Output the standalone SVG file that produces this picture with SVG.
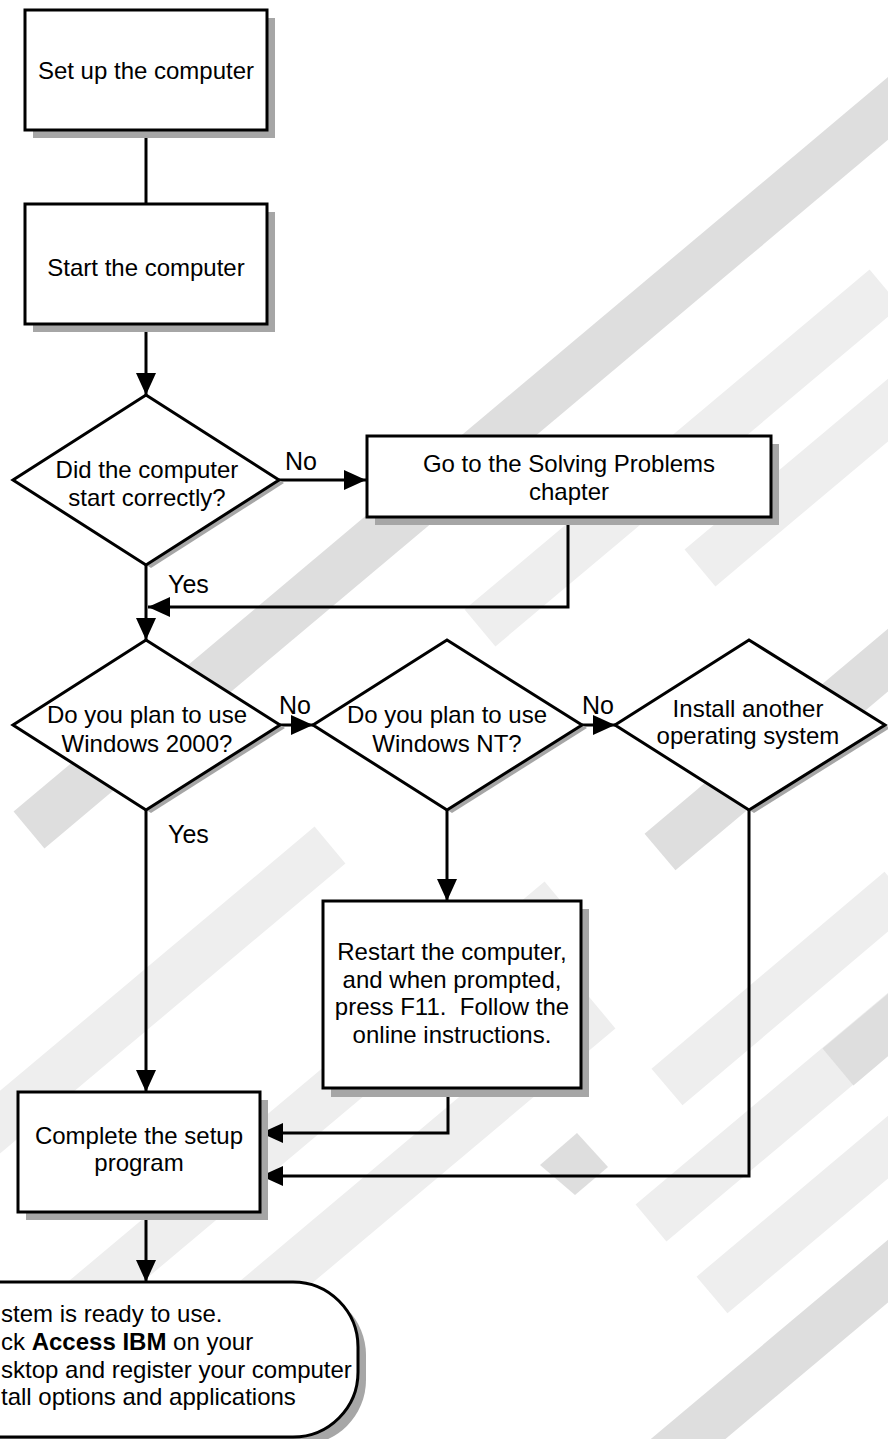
<svg xmlns="http://www.w3.org/2000/svg" width="888" height="1439" viewBox="0 0 888 1439">
<style>
.bg line { fill:none; stroke-linecap:butt }
.dk { stroke:#dedede; stroke-width:48 }
.lt { stroke:#eeeeee; stroke-width:48 }
.box { fill:#ffffff; stroke:#000000; stroke-width:3 }
.sh { fill:#a6a6a6 }
.t { font-family:"Liberation Sans", Arial, sans-serif; font-size:24px; fill:#000000; text-anchor:middle }
.tl { font-family:"Liberation Sans", Arial, sans-serif; font-size:24px; fill:#000000 }
.lbl { font-family:"Liberation Sans", Arial, sans-serif; font-size:25px; fill:#000000 }
.conn { fill:none; stroke:#000000; stroke-width:3 }
</style>
<defs>
<marker id="ah" markerUnits="userSpaceOnUse" markerWidth="22" markerHeight="20" refX="22" refY="10" orient="auto">
<path d="M0,0 L22,10 L0,20 Z" fill="#000000"/>
</marker>
</defs>
<rect width="888" height="1439" fill="#ffffff"/>
<g class="bg" id="background">
<line class="lt" x1="885" y1="288" x2="480" y2="628"/>
<line class="lt" x1="700" y1="568" x2="1000" y2="316"/>
<line class="dk" x1="1017" y1="0" x2="29" y2="830"/>
<line class="dk" x1="660" y1="852" x2="1000" y2="566"/>
<line class="lt" x1="330" y1="845" x2="-20" y2="1139"/>
<line class="lt" x1="560" y1="900" x2="-20" y2="1387"/>
<line class="lt" x1="600" y1="1010" x2="200" y2="1346"/>
<line class="lt" x1="712" y1="1295" x2="1000" y2="1053"/>
<line class="lt" x1="651" y1="1223" x2="950" y2="972"/>
<line class="lt" x1="667" y1="1087" x2="900" y2="890"/>
<line class="dk" x1="838" y1="1067" x2="1000" y2="931"/>
<line class="dk" x1="1000" y1="1177" x2="600" y2="1513"/>
<polygon fill="#dedede" points="540,1165 577,1133 608,1167 575,1195"/>
</g>
<g id="connectors">
<line class="conn" x1="146" y1="130" x2="146" y2="204"/>
<line class="conn" x1="146" y1="324" x2="146" y2="395" marker-end="url(#ah)"/>
<line class="conn" x1="279" y1="480" x2="366" y2="480" marker-end="url(#ah)"/>
<polyline class="conn" points="568,517 568,607 148,607" marker-end="url(#ah)"/>
<line class="conn" x1="146" y1="565" x2="146" y2="640" marker-end="url(#ah)"/>
<line class="conn" x1="280" y1="725" x2="313" y2="725" marker-end="url(#ah)"/>
<line class="conn" x1="582" y1="725" x2="615" y2="725" marker-end="url(#ah)"/>
<line class="conn" x1="447" y1="810" x2="447" y2="901" marker-end="url(#ah)"/>
<line class="conn" x1="146" y1="810" x2="146" y2="1092" marker-end="url(#ah)"/>
<polyline class="conn" points="448,1088 448,1133 261,1133" marker-end="url(#ah)"/>
<polyline class="conn" points="749,810 749,1176 261,1176" marker-end="url(#ah)"/>
<line class="conn" x1="146" y1="1212" x2="146" y2="1282" marker-end="url(#ah)"/>
<text class="lbl" x="285" y="470">No</text>
<text class="lbl" x="168" y="593">Yes</text>
<text class="lbl" x="279" y="714">No</text>
<text class="lbl" x="582" y="714">No</text>
<text class="lbl" x="168" y="843">Yes</text>
</g>
<g id="n1">
<rect class="sh" x="33" y="18" width="242" height="120"/>
<rect class="box" x="25" y="10" width="242" height="120"/>
<text class="t" x="146" y="79">Set up the computer</text>
</g>
<g id="n2">
<rect class="sh" x="33" y="212" width="242" height="120"/>
<rect class="box" x="25" y="204" width="242" height="120"/>
<text class="t" x="146" y="276">Start the computer</text>
</g>
<g id="n3">
<polygon class="sh" points="151,398 284,483 151,568 18,483"/>
<polygon class="box" points="146,395 279,480 146,565 13,480"/>
<text class="t" x="147" y="478">Did the computer</text>
<text class="t" x="147" y="506">start correctly?</text>
</g>
<g id="n4">
<rect class="sh" x="375" y="444" width="404" height="81"/>
<rect class="box" x="367" y="436" width="404" height="81"/>
<text class="t" x="569" y="472">Go to the Solving Problems</text>
<text class="t" x="569" y="500">chapter</text>
</g>
<g id="n5">
<polygon class="sh" points="151,643 285,728 151,813 17,728"/>
<polygon class="box" points="146,640 280,725 146,810 13,725"/>
<text class="t" x="147" y="723">Do you plan to use</text>
<text class="t" x="147" y="752">Windows 2000?</text>
</g>
<g id="n6">
<polygon class="sh" points="452,643 587,728 452,813 318,728"/>
<polygon class="box" points="447,640 582,725 447,810 313,725"/>
<text class="t" x="447" y="723">Do you plan to use</text>
<text class="t" x="447" y="752">Windows NT?</text>
</g>
<g id="n7">
<polygon class="sh" points="754,643 890,728 754,813 620,728"/>
<polygon class="box" points="749,640 885,725 749,810 615,725"/>
<text class="t" x="748" y="717">Install another</text>
<text class="t" x="748" y="744">operating system</text>
</g>
<g id="n8">
<rect class="sh" x="331" y="909" width="258" height="188"/>
<rect class="box" x="323" y="901" width="258" height="187"/>
<text class="t" x="452" y="960">Restart the computer,</text>
<text class="t" x="452" y="988">and when prompted,</text>
<text class="t" x="452" y="1015" xml:space="preserve">press F11.  Follow the</text>
<text class="t" x="452" y="1043">online instructions.</text>
</g>
<g id="n9">
<rect class="sh" x="26" y="1100" width="242" height="120"/>
<rect class="box" x="18" y="1092" width="242" height="120"/>
<text class="t" x="139" y="1144">Complete the setup</text>
<text class="t" x="139" y="1171">program</text>
</g>
<g id="n10">
<path class="sh" d="M-10,1290 L301,1290 A65,65 0 0 1 366,1355 L366,1380 A65,65 0 0 1 301,1445 L-10,1445 Z"/>
<path class="box" d="M-10,1282 L293,1282 A65,65 0 0 1 358,1347 L358,1372 A65,65 0 0 1 293,1437 L-10,1437 Z"/>
<text class="tl" x="1" y="1322">stem is ready to use.</text>
<text class="tl" x="1" y="1350">ck <tspan font-weight="bold">Access IBM</tspan> on your</text>
<text class="tl" x="1" y="1378">sktop and register your computer</text>
<text class="tl" x="1" y="1405">tall options and applications</text>
</g>
</svg>
